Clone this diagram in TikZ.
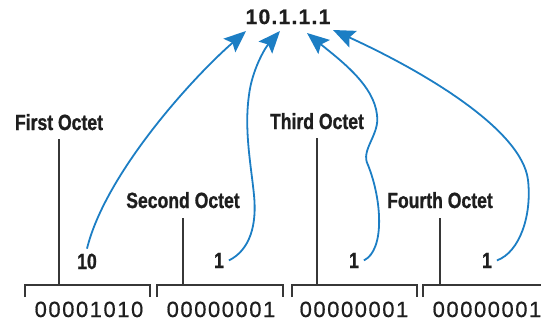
\documentclass[tikz,border=0pt]{standalone}
\usepackage{fontspec}
\setmainfont{Liberation Sans}
\newfontfamily\labfont[FakeStretch=0.8,FakeBold=1]{Liberation Sans Bold}
\newfontfamily\ipfont[LetterSpace=6,FakeBold=0.8]{Liberation Sans Bold}
\newfontfamily\binfont[LetterSpace=7,FakeBold=0.6]{Liberation Sans}
\usetikzlibrary{arrows.meta}
\definecolor{arrowblue}{RGB}{28,126,196}
\definecolor{linegray}{RGB}{55,55,55}
\definecolor{textblack}{RGB}{30,30,30}
\tikzset{
  lab/.style={font=\labfont\fontsize{22}{24}\selectfont, anchor=base, inner sep=0pt, text=textblack},
  numlab/.style={lab, outer sep=5pt},
  iplab/.style={font=\ipfont\fontsize{21}{23}\selectfont, anchor=base, inner sep=0pt, text=textblack},
  binlab/.style={font=\binfont\fontsize{22}{24}\selectfont, anchor=base, inner sep=0pt, text=textblack},
  conn/.style={draw=arrowblue, line width=1.8pt, -{Stealth[length=22pt,width=18pt,inset=4pt]}},
  octline/.style={draw=linegray, line width=1.6pt},
}
\begin{document}
\begin{tikzpicture}[x=1pt,y=-1pt]
\useasboundingbox (0,0) rectangle (541,324);
% address
\node[iplab] (ip) at (288,24) {10.1.1.1};
\coordinate (t1) at (246,31);
\coordinate (t2) at (280,31);
\coordinate (t3) at (307,33);
\coordinate (t4) at (333,30);
% octet labels
\node[lab] (o1) at (59,130) {First Octet};
\node[lab] (o2) at (183,208) {Second Octet};
\node[lab] (o3) at (317,129) {Third Octet};
\node[lab] (o4) at (440,208) {Fourth Octet};
% decimal values
\node[numlab] (n1) at (87,269) {10};
\node[numlab] (n2) at (219,268) {1};
\node[numlab] (n3) at (354,268) {1};
\node[numlab] (n4) at (487,268) {1};
% binary values
\node[binlab] (b1) at (89,317) {00001010};
\node[binlab] (b2) at (221,317) {00000001};
\node[binlab] (b3) at (354,317) {00000001};
\node[binlab] (b4) at (487,317) {00000001};
% brackets
\coordinate (k1) at (25,285);
\coordinate (k2) at (157,285);
\coordinate (k3) at (292,285);
\coordinate (k4) at (423,285);
\draw[octline] (25,297) -- (k1) -- (150,285) -- (150,297);
\draw[octline] (157,297) -- (k2) -- (283,285) -- (283,297);
\draw[octline] (292,297) -- (k3) -- (417,285) -- (417,297);
\draw[octline] (423,297) -- (k4) -- (541,285);
% label stems
\draw[octline] ([yshift=-9pt]o1.base) -- (o1.base |- k1);
\draw[octline] ([yshift=-10pt]o2.base) -- (o2.base |- k2);
\draw[octline] ([yshift=-9pt]o3.base) -- (o3.base |- k3);
\draw[octline] ([yshift=-10pt]o4.base) -- (o4.base |- k4);
% arrows
\draw[conn] (n1.north) .. controls (105,175) and (190,80) .. (t1);
\draw[conn] (n2.east) .. controls (250,250) and (257,225) .. (254,195)
  .. controls (251,165) and (244,130) .. (249,95)
  .. controls (252,70) and (265,48) .. (t2);
\draw[conn] (n3.east) .. controls (385,250) and (382,200) .. (368,165)
  .. controls (360,150) and (380,135) .. (377,115)
  .. controls (374,85) and (340,60) .. (t3);
\draw[conn] (n4.east) .. controls (520,252) and (532,215) .. (528,180)
  .. controls (522,130) and (425,72) .. (t4);
\end{tikzpicture}
\end{document}
